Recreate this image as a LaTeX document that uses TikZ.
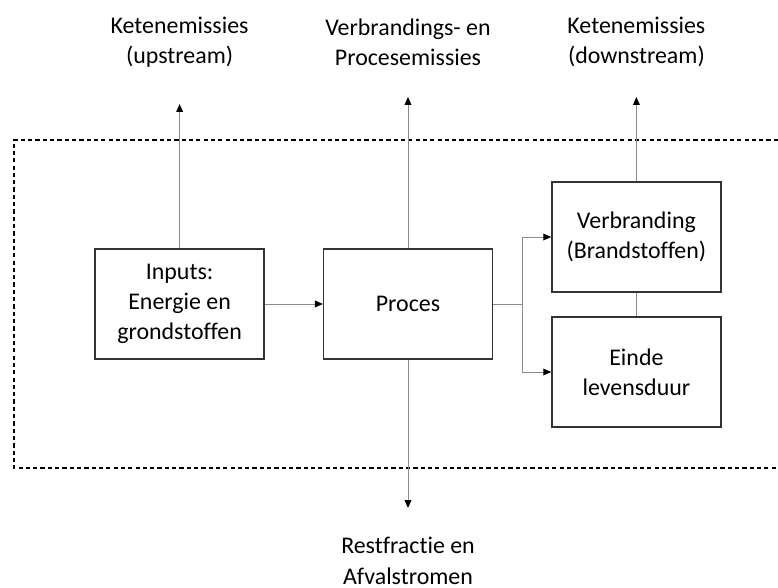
\documentclass[tikz,border=0pt]{standalone}
\usepackage{fontspec}
\setmainfont{Carlito}[Ligatures=NoCommon]
\usetikzlibrary{arrows.meta}

\begin{document}
\begin{tikzpicture}[>={Triangle[length=0.2cm,width=0.17cm,color=black]}]
		\tikzstyle{block}=[draw=black!80,line width=0.9pt,shape=rectangle,minimum width=4.225cm,minimum height=2.75cm,align=center,inner sep=2pt]
		\tikzstyle{flow}=[draw=black!45,line width=0.7pt]
		\tikzstyle{label}=[align=center,inner sep=0pt]
		\fontsize{17}{21.5}\selectfont
		
		\useasboundingbox (0,0) rectangle (19.45,-14.7);
		
		% systeemgrens
		\draw[line width=0.8pt,dash pattern=on 3pt off 2.2pt] (19.45,-3.5) -- (0.35,-3.5) -- (0.35,-11.7) -- (19.45,-11.7);
		
		\node[block](inp) at (4.49,-7.6){Inputs:\\Energie en\\grondstoffen};
		\node[block](proc) at (10.2,-7.6){Proces};
		\node[block](verb) at (15.91,-5.925){Verbranding\\(Brandstoffen)};
		\node[block](einde) at (15.91,-9.3){Einde\\levensduur};
		
		\node[label](up) at (4.49,-1.05){Ketenemissies\\(upstream)};
		\node[label](pe) at (10.2,-1.05){Verbrandings- en\\Procesemissies};
		\node[label](down) at (15.91,-1.05){Ketenemissies\\(downstream)};
		\node[label](rest) at (10.2,-14.02){Restfractie en\\Afvalstromen};
		
		\coordinate (upt) at (4.49,-2.6);
		\coordinate (pet) at (10.2,-2.425);
		\coordinate (downt) at (15.91,-2.425);
		\coordinate (restt) at (10.2,-12.7);
		\coordinate (split) at (13.05,-7.6);
		
		\draw[flow,->] (inp) -- (proc);
		\draw[flow,->] (inp.north) -- (upt);
		\draw[flow,->] (proc.north) -- (pet);
		\draw[flow,->] (verb.north) -- (downt);
		\draw[flow,->] (proc.south) -- (restt);
		\draw[flow] (proc.east) -- (split);
		\draw[flow,->] (split) |- (verb.west);
		\draw[flow,->] (split) |- (einde.west);
		\draw[flow] (verb.south) -- (einde.north);
\end{tikzpicture}
\end{document}
